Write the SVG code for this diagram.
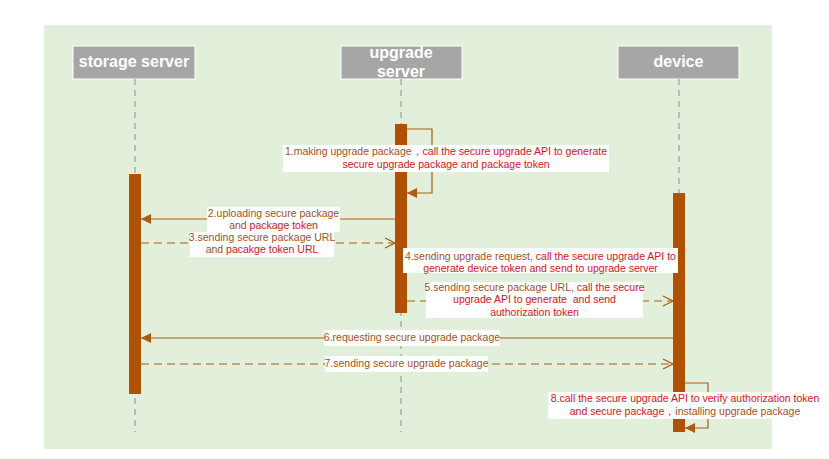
<svg xmlns="http://www.w3.org/2000/svg" width="829" height="459" viewBox="0 0 829 459">
<defs>
<style>
.hdr{fill:#a6a6a6;stroke:#ffffff;stroke-width:1}
.hdrt{font-family:"Liberation Sans",Arial,sans-serif;font-weight:bold;font-size:16px;fill:#ffffff;text-anchor:middle}
.life{stroke:#8c8c8c;stroke-width:1;stroke-dasharray:6,5;fill:none}
.bar{fill:#b05000}
.msg{stroke:#b05a10;stroke-width:1.2;fill:none}
.dash{stroke-dasharray:8,5}
.lbg{fill:#ffffff}
.lt{font-family:"Liberation Sans",Arial,sans-serif;font-size:10.5px;fill:#a5501a;text-anchor:middle}
.r{fill:#e01020}
</style>
<marker id="filled" viewBox="0 0 10 10" refX="10" refY="5" markerWidth="10" markerHeight="10" markerUnits="userSpaceOnUse" orient="auto">
<path d="M0,0 L10,5 L0,10 z" fill="#b05a10"/>
</marker>
<marker id="open" viewBox="0 0 12 12" refX="11" refY="6" markerWidth="12" markerHeight="12" markerUnits="userSpaceOnUse" orient="auto">
<path d="M1,1 L11,6 L1,11" fill="none" stroke="#b05a10" stroke-width="1.2"/>
</marker>
</defs>
<rect x="0" y="0" width="829" height="459" fill="#ffffff"/>
<rect x="44" y="25" width="728" height="424" fill="#e2efda"/>

<g id="storage-server">
<rect class="hdr" x="73" y="46" width="122" height="33"/>
<text class="hdrt" x="134" y="67">storage server</text>
<line class="life" x1="135" y1="79" x2="135" y2="432"/>
<rect class="bar" x="129" y="174" width="12" height="220"/>
</g>
<g id="upgrade-server">
<rect class="hdr" x="341" y="46" width="121" height="33"/>
<text class="hdrt" x="401" y="58">upgrade</text>
<text class="hdrt" x="401" y="77">server</text>
<line class="life" x1="401" y1="79" x2="401" y2="432"/>
<rect class="bar" x="395" y="124" width="12" height="189"/>
</g>
<g id="device">
<rect class="hdr" x="618" y="46" width="121" height="33"/>
<text class="hdrt" x="678.5" y="67">device</text>
<line class="life" x1="679" y1="79" x2="679" y2="432"/>
<rect class="bar" x="673" y="193" width="12" height="239"/>
</g>

<g id="connectors">
<polyline class="msg" points="407,129 432,129 432,193 407,193" marker-end="url(#filled)"/>
<line class="msg" x1="395" y1="219" x2="141" y2="219" marker-end="url(#filled)"/>
<line class="msg dash" x1="141" y1="243" x2="395" y2="243" marker-end="url(#open)"/>
<line class="msg" x1="673" y1="260" x2="407" y2="260" marker-end="url(#filled)"/>
<line class="msg dash" x1="407" y1="301" x2="673" y2="301" marker-end="url(#open)"/>
<line class="msg" x1="673" y1="338" x2="141" y2="338" marker-end="url(#filled)"/>
<line class="msg dash" x1="141" y1="364" x2="673" y2="364" marker-end="url(#open)"/>
<polyline class="msg" points="685,383 708,383 708,428 685,428" marker-end="url(#filled)"/>
</g>

<g id="labels">
<rect class="lbg" x="283" y="145" width="326" height="27"/>
<text class="lt" x="446" y="155">1.making upgrade package，<tspan class="r">call the secure upgrade API to generate</tspan></text>
<text class="lt r" x="446" y="168">secure upgrade package and package token</text>

<rect class="lbg" x="207" y="207" width="133" height="25"/>
<text class="lt" x="273.5" y="217">2.uploading secure package</text>
<text class="lt" x="273.5" y="229">and <tspan class="r">package token</tspan></text>

<rect class="lbg" x="190" y="232" width="144" height="25"/>
<text class="lt" x="262" y="241">3.sending secure package URL</text>
<text class="lt" x="262" y="253">and <tspan class="r">pacakge token URL</tspan></text>

<rect class="lbg" x="403" y="248" width="275" height="25"/>
<text class="lt" x="540.5" y="260">4.sending upgrade request, <tspan class="r">call the secure upgrade API to</tspan></text>
<text class="lt r" x="540.5" y="272">generate device token and send to upgrade server</text>

<rect class="lbg" x="426" y="282" width="217" height="36"/>
<text class="lt" x="534.5" y="291">5.sending secure package URL, <tspan class="r">call the secure</tspan></text>
<text class="lt r" x="534.5" y="303" xml:space="preserve">upgrade API to generate  and send</text>
<text class="lt r" x="534.5" y="316">authorization token</text>

<rect class="lbg" x="324" y="330" width="176" height="16"/>
<text class="lt" x="412" y="341">6.requesting secure upgrade package</text>

<rect class="lbg" x="325" y="356" width="163" height="16"/>
<text class="lt" x="406.5" y="367">7.sending secure upgrade package</text>

<rect class="lbg" x="548" y="392" width="274" height="27"/>
<text class="lt r" x="685" y="402">8.call the secure upgrade API to verify authorization token</text>
<text class="lt" x="685" y="415"><tspan class="r">and secure package，</tspan>installing upgrade package</text>
</g>
</svg>
